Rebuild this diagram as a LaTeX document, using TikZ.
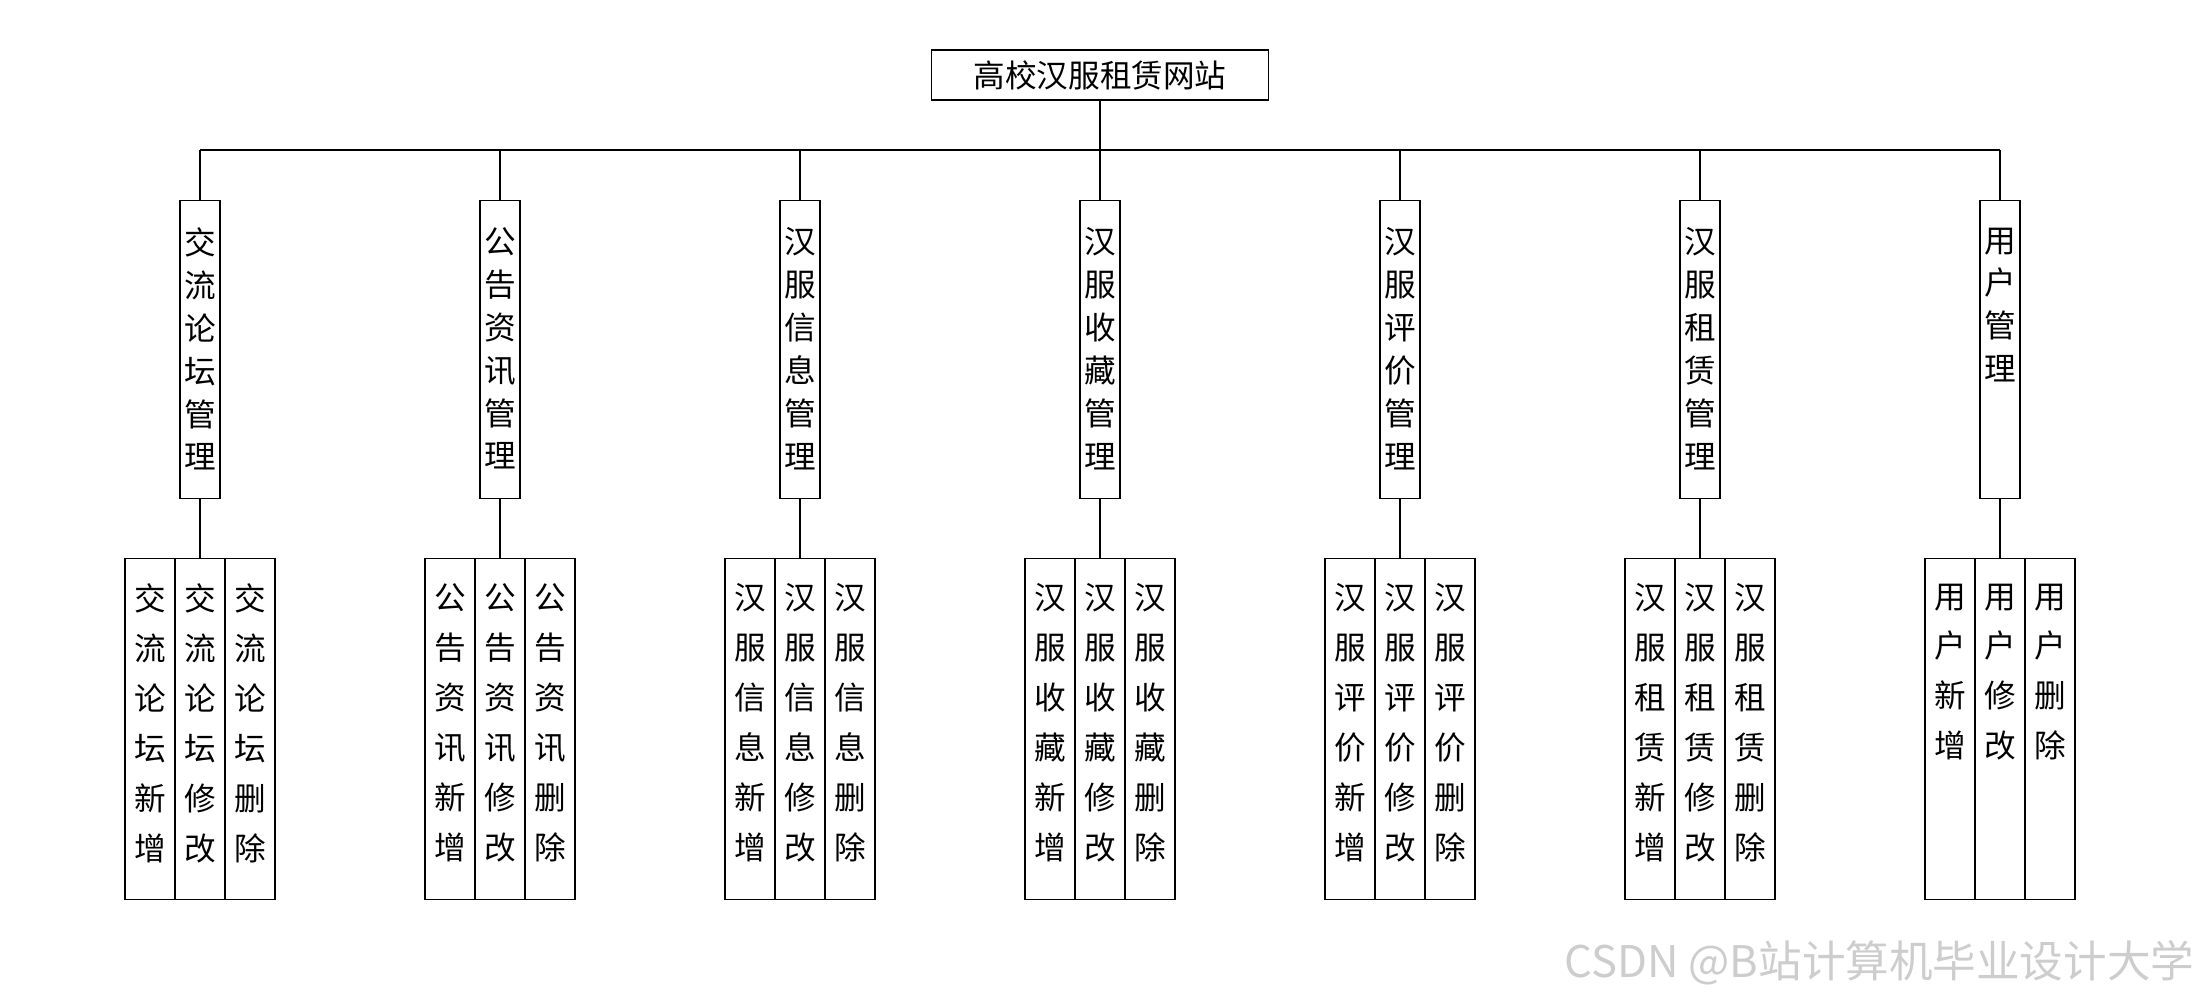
\documentclass[tikz,border=0pt]{standalone}
\usepackage{fontspec}
\newfontfamily\cjk{Noto Sans CJK SC}
\usetikzlibrary{positioning}
\definecolor{wmcolor}{RGB}{205,205,205}
% stack the characters of a word one below the other
\def\vend{}
\def\vchars#1{\edef\vtmp{#1}\expandafter\vcharsi\vtmp\vend}
\def\vcharsi#1#2{#1\ifx\vend#2\expandafter\vgobble\else\expandafter\vnext\fi#2}
\def\vnext{\\\vcharsi}
\def\vgobble#1{}

\begin{document}
\begin{tikzpicture}
  \tikzset{
    titlebox/.style={
      draw,
      minimum width=3.37cm,
      minimum height=0.5cm,
      inner sep=0pt,
      font=\cjk\fontsize{9}{11}\selectfont
    },
    modbox/.style={
      draw,
      minimum width=0.4cm,
      minimum height=2.98cm,
      anchor=north,
      inner sep=0pt
    },
    subbox/.style={
      draw,
      minimum width=0.5cm,
      minimum height=3.41cm,
      anchor=north,
      inner sep=0pt
    },
    modtext/.style={
      inner sep=0pt,
      align=center,
      font=\cjk\fontsize{9}{12.2}\selectfont
    },
    subtext/.style={
      inner sep=0pt,
      align=center,
      font=\cjk\fontsize{9}{14.2}\selectfont
    }
  }
  \useasboundingbox (0,0) rectangle (22,-10);

  % Draw the root
  \node[titlebox] at (11,-0.75) (root) {高校汉服租赁网站};
  \coordinate (busL) at (2,-1.5);
  \coordinate (busR) at (20,-1.5);
  \draw (root.south) -- (root.south |- busL);
  \draw (busL) -- (busR);

  % Draw the modules and their operations
  \foreach \i/\nm in {1/交流论坛, 2/公告资讯, 3/汉服信息, 4/汉服收藏,
                      5/汉服评价, 6/汉服租赁, 7/用户} {
    \pgfmathsetmacro\cx{3*\i-1}
    \node[modbox] at (\cx,-2) (mod\i) {};
    \node[modtext, below=0.27cm of mod\i.north] (modt\i) {\vchars{\nm 管理}};
    \draw (mod\i.north) -- (mod\i.north |- busL);

    \foreach \j/\op in {1/新增, 2/修改, 3/删除} {
      \node[subbox] at (\cx+0.5*\j-1,-5.58) (sub\i\j) {};
      \node[subtext, below=0.25cm of sub\i\j.north] (subt\i\j) {\vchars{\nm\op}};
    }
    \draw (mod\i.south) -- (sub\i2.north);
  }

  % Watermark
  \node[anchor=east, inner sep=0pt, text=wmcolor,
        font=\cjk\fontsize{12.4}{15}\selectfont] at (21.95,-9.63) (wm) {CSDN @B站计算机毕业设计大学};
\end{tikzpicture}
\end{document}
